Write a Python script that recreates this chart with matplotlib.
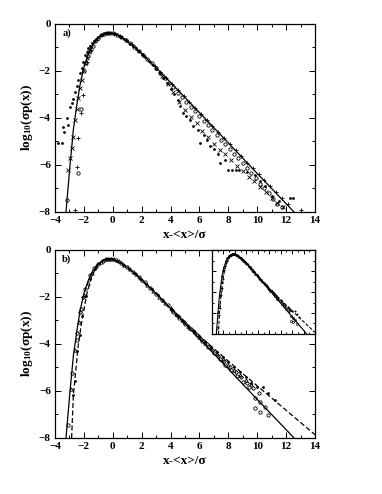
import matplotlib
matplotlib.use("Agg")
import matplotlib.pyplot as plt
from matplotlib.ticker import MultipleLocator

plt.rcParams["font.family"] = ["Liberation Serif", "DejaVu Serif"]
plt.rcParams["font.weight"] = "bold"
plt.rcParams["mathtext.fontset"] = "custom"
plt.rcParams["mathtext.rm"] = "Liberation Serif:bold"
plt.rcParams["mathtext.it"] = "Liberation Serif:bold"

# --- theory curves ---
line_x = [-3.24, -3.1, -2.96, -2.85, -2.73, -2.5, -2.27, -2.0, -1.69, -1.4, -1.0, -0.7,
          -0.31, 0.0, 0.5, 1.0, 1.5, 2.0, 3.0, 4.0, 6.0, 8.0, 10.0, 12.55]
line_y = [-8.0, -7.0, -6.0, -5.3, -4.5, -3.5, -2.6, -1.85, -1.28, -0.9, -0.6, -0.45,
          -0.37, -0.40, -0.53, -0.73, -0.98, -1.26, -1.86, -2.49, -3.77, -5.06, -6.36, -8.0]

dash_x = [-2.85, -2.73, -2.57, -2.39, -2.15, -1.81, -1.5, -1.2, -1.0, -0.7, -0.31, 0.0,
          0.5, 1.0, 1.5, 2.0, 3.0, 4.0, 5.0, 6.0, 7.0, 8.0, 9.0, 10.0, 11.0, 12.0, 13.0, 14.0]
dash_y = [-8.0, -6.17, -5.18, -4.04, -3.05, -1.91, -1.2, -0.8, -0.6, -0.45, -0.37, -0.40,
          -0.53, -0.73, -0.98, -1.26, -1.86, -2.48, -3.08, -3.65, -4.2, -4.73, -5.26, -5.78,
          -6.3, -6.82, -7.34, -7.86]

# --- panel a) data ---
a_dot_x = [-3.77, -3.54, -3.42, -3.35, -3.19, -3.08, -2.96, -2.85, -2.73, -2.61, -2.5, -2.39,
           -2.27, -2.15, -2.04, -1.92, -1.8, -1.69, -1.58, -1.46, -1.3, -1.15, -1.0, -0.85,
           -0.7, -0.55, -0.4, -0.25, -0.1, 0.05, 0.2, 0.4, 0.6, 0.8, 1.0, 1.2, 1.4, 1.6, 1.8,
           2.0, 2.25, 2.5, 2.75, 3.0, 3.25, 3.5, 3.75, 4.0, 4.25, 4.5, 4.66, 4.88, 5.1, 5.35,
           5.58, 5.93, 6.04, 6.3, 6.5, 6.73, 7.0, 7.31, 7.43, 7.77, 8.0, 8.25, 8.5, 8.75, 9.27,
           9.85, 10.2, 10.54, 11.0, 11.5, 12.3, 12.45]
a_dot_y = [-5.08, -5.08, -4.37, -4.6, -4.01, -4.3, -3.55, -3.35, -3.2, -2.88, -2.64, -2.38,
           -2.1, -1.89, -1.6, -1.32, -1.18, -1.04, -0.93, -0.82, -0.74, -0.64, -0.56, -0.49,
           -0.43, -0.39, -0.37, -0.37, -0.38, -0.40, -0.44, -0.50, -0.57, -0.65, -0.74, -0.84,
           -0.94, -1.04, -1.15, -1.27, -1.42, -1.57, -1.73, -1.9, -2.1, -2.3, -2.52, -2.75,
           -2.98, -3.22, -3.5, -3.78, -3.92, -4.1, -4.35, -4.5, -5.05, -4.72, -4.92, -5.2,
           -5.32, -5.55, -5.9, -5.78, -6.2, -6.2, -6.2, -6.2, -6.28, -6.42, -6.7, -6.9, -7.3,
           -7.55, -7.4, -7.4]

a_circ_x = [-3.19, -2.44, -2.2, -2.0, -1.85, -1.7, -1.55, -1.4, -1.2, -1.0, -0.8, -0.6, -0.4,
            -0.2, 0.0, 0.3, 0.6, 0.9, 1.2, 1.5, 1.8, 2.1, 2.4, 2.7, 3.0, 3.3, 3.6, 3.9, 4.2,
            4.5, 4.8, 5.1, 5.4, 5.7, 6.0, 6.3, 6.6, 6.9, 7.2, 7.5, 7.8, 8.1, 8.4, 8.7, 9.0,
            9.3, 9.6, 9.9, 10.2, 10.5, 10.8, 11.1, 11.4, 11.7]
a_circ_y = [-7.49, -6.36, -3.63, -2.0, -1.65, -1.38, -1.15, -0.92, -0.74, -0.6, -0.48, -0.41,
            -0.37, -0.37, -0.40, -0.47, -0.57, -0.69, -0.83, -0.98, -1.15, -1.32, -1.5, -1.68,
            -1.88, -2.09, -2.3, -2.5, -2.7, -2.92, -3.12, -3.33, -3.52, -3.72, -3.9, -4.12,
            -4.3, -4.5, -4.72, -4.92, -5.12, -5.3, -5.52, -5.7, -5.9, -6.12, -6.35, -6.55,
            -6.8, -7.0, -7.2, -7.45, -7.65, -7.8]

a_plus_x = [-2.61, -2.5, -2.39, -2.2, -2.04, -1.8, -1.5, -1.1, -0.7, -0.3, 0.1, 0.5, 0.9, 1.3,
            1.7, 2.1, 2.5, 2.9, 3.3, 3.7, 4.1, 4.5, 4.9, 5.3, 5.7, 6.1, 6.5, 6.9, 7.3, 7.7,
            8.1, 8.5, 8.9, 9.3, 9.7, 10.1, 10.5, 10.9, 11.3, 11.7, 12.1, 13.0]
a_plus_y = [-7.91, -6.07, -4.87, -3.8, -3.02, -1.6, -1.1, -0.68, -0.44, -0.37, -0.41, -0.53,
            -0.67, -0.87, -1.09, -1.32, -1.56, -1.80, -2.05, -2.30, -2.55, -2.82, -3.06,
            -3.32, -3.57, -3.82, -4.08, -4.33, -4.60, -4.85, -5.10, -5.38, -5.62, -5.9,
            -6.12, -6.4, -6.62, -6.9, -7.15, -7.4, -7.68, -7.9]

a_x_x = [-3.12, -2.96, -2.85, -2.73, -2.61, -2.5, -2.39, -2.27, -2.15, -2.04, -1.92, -1.8,
         -1.65, -1.5, 3.4, 3.8, 4.2, 4.6, 5.0, 5.4, 5.8, 6.2, 6.6, 7.0, 7.4, 7.8, 8.2, 8.6,
         9.0, 9.4, 9.8, 10.2, 10.6, 11.0, 11.4, 11.8]
a_x_y = [-6.21, -5.72, -5.28, -4.8, -4.09, -3.6, -3.16, -2.74, -2.38, -1.96, -1.68, -1.46,
         -1.2, -1.0, -2.2, -2.55, -2.9, -3.3, -3.65, -3.95, -4.2, -4.55, -4.8, -5.1, -5.35,
         -5.55, -5.8, -6.05, -6.25, -6.5, -6.7, -6.95, -7.15, -7.4, -7.6, -7.8]

# --- panel b) data ---
b_circ_x = [-3.12, -2.85, -2.5, -2.2, -1.9, -1.6, -1.3, -1.0, -0.7, -0.4, -0.1, 0.2, 0.6, 1.0,
            1.4, 1.8, 2.2, 2.6, 3.0, 3.4, 3.8, 4.2, 4.6, 5.0, 5.4, 5.8, 6.2, 6.6, 7.0, 7.4,
            7.8, 8.2, 8.6, 9.0, 9.4, 9.85, 9.85, 10.2, 10.2, 10.54, 10.77]
b_circ_y = [-7.45, -5.24, -3.83, -2.5, -1.65, -1.08, -0.77, -0.6, -0.45, -0.37, -0.38, -0.44,
            -0.57, -0.73, -0.93, -1.15, -1.38, -1.62, -1.86, -2.11, -2.36, -2.62, -2.88,
            -3.13, -3.38, -3.62, -3.88, -4.12, -4.38, -4.62, -4.88, -5.12, -5.38, -5.6,
            -5.85, -6.31, -6.74, -6.45, -6.88, -6.67, -7.02]

b_tri_x = [-2.91, -2.61, -2.34, -2.0, -1.75, -1.45, -1.15, -0.85, -0.55, -0.25, 0.05, 0.4,
           0.8, 1.2, 1.6, 2.0, 2.4, 2.8, 3.2, 3.6, 4.0, 4.4, 4.8, 5.2, 5.6, 6.0, 6.4, 6.8,
           7.2, 7.6, 8.0, 8.4, 8.8, 9.2, 9.6]
b_tri_y = [-5.92, -4.26, -3.05, -1.9, -1.4, -0.97, -0.7, -0.52, -0.4, -0.37, -0.40, -0.49,
           -0.65, -0.83, -1.04, -1.27, -1.51, -1.75, -1.99, -2.24, -2.48, -2.74, -2.98,
           -3.22, -3.46, -3.70, -3.94, -4.18, -4.42, -4.66, -4.88, -5.12, -5.34, -5.55, -5.72]

b_dot_x = [-2.73, -2.61, -2.45, -2.3, -2.1, -1.85, -1.55, -1.25, -0.95, -0.65, -0.35, -0.05,
           0.3, 0.7, 1.1, 1.5, 1.9, 2.3, 2.7, 3.1, 3.5, 4.0, 4.4, 4.8, 5.2, 5.6, 6.0, 6.4,
           6.8, 7.2, 7.6, 8.0, 8.4, 8.8, 9.2, 9.6, 10.0, 10.43, 10.77, 11.24]
b_dot_y = [-6.17, -5.57, -4.3, -3.6, -2.8, -1.95, -1.22, -0.8, -0.56, -0.43, -0.37, -0.39,
           -0.47, -0.62, -0.82, -1.0, -1.22, -1.45, -1.68, -1.92, -2.17, -2.5, -2.75, -3.0,
           -3.22, -3.45, -3.68, -3.9, -4.12, -4.33, -4.55, -4.78, -5.0, -5.2, -5.42, -5.65,
           -5.85, -5.82, -6.07, -6.38]

b_dia_x = [-2.5, -2.27, -2.05, 4.1, 4.5, 4.9, 5.3, 5.7, 6.1, 6.5, 6.9, 7.3, 7.7, 8.1, 8.5,
           8.9, 9.3, 9.7, 10.1]
b_dia_y = [-3.55, -2.62, -2.0, -2.55, -2.8, -3.05, -3.3, -3.54, -3.78, -4.02, -4.26, -4.5,
           -4.74, -4.97, -5.2, -5.42, -5.65, -5.88, -6.1]


def style_axes(ax, labels=True):
    ax.set_xlim(-4, 14)
    ax.set_ylim(-8, 0)
    ax.xaxis.set_major_locator(MultipleLocator(2))
    ax.xaxis.set_minor_locator(MultipleLocator(1))
    ax.yaxis.set_major_locator(MultipleLocator(2))
    ax.yaxis.set_minor_locator(MultipleLocator(1))
    ax.tick_params(which="both", direction="in", top=True, right=True, width=0.7,
                   labelsize=8)
    ax.tick_params(axis="x", pad=3)
    ax.tick_params(axis="y", pad=3)
    ax.tick_params(which="major", length=4)
    ax.tick_params(which="minor", length=2)
    for s in ax.spines.values():
        s.set_linewidth(0.9)
    if labels:
        ax.set_xlabel(r"x-<x>/σ", fontsize=9.5, fontweight="bold", labelpad=3)
        ax.set_ylabel(r"log$_{10}$(σp(x))", fontsize=9.5, fontweight="bold", labelpad=3)
    else:
        ax.set_xticklabels([])
        ax.set_yticklabels([])


fig = plt.figure(figsize=(3.82, 4.94), dpi=100)

# panel a
ax1 = fig.add_axes([0.144, 0.5709, 0.6806, 0.3806])
ax1.plot(line_x, line_y, color="black", lw=0.9)
ax1.plot(a_dot_x, a_dot_y, "o", ms=2.0, color="black", mew=0)
ax1.plot(a_circ_x, a_circ_y, "o", ms=2.4, mfc="none", mec="black", mew=0.6)
ax1.plot(a_plus_x, a_plus_y, "+", ms=3.2, color="black", mew=0.6)
ax1.plot(a_x_x, a_x_y, "x", ms=2.4, color="black", mew=0.6)
ax1.text(-3.5, -0.5, "a)", fontsize=7.5, fontweight="bold")
style_axes(ax1)

# panel b
ax2 = fig.add_axes([0.144, 0.1134, 0.6806, 0.3806])
ax2.plot(line_x, line_y, color="black", lw=0.9)
ax2.plot(dash_x, dash_y, color="black", lw=0.9, ls=(0, (4, 2)))
ax2.plot(b_circ_x, b_circ_y, "o", ms=2.4, mfc="none", mec="black", mew=0.6)
ax2.plot(b_tri_x, b_tri_y, "^", ms=2.4, mfc="none", mec="black", mew=0.6)
ax2.plot(b_dot_x, b_dot_y, "o", ms=2.0, color="black", mew=0)
ax2.plot(b_dia_x, b_dia_y, "D", ms=2.0, mfc="none", mec="black", mew=0.6)
ax2.text(-3.5, -0.5, "b)", fontsize=7.5, fontweight="bold")
style_axes(ax2)

# inset
ax3 = fig.add_axes([0.555, 0.3239, 0.2696, 0.17])
ax3.plot(line_x, line_y, color="black", lw=0.8)
ax3.plot(dash_x, dash_y, color="black", lw=0.8, ls=(0, (3, 1.5)))
ax3.plot(b_circ_x, b_circ_y, "o", ms=1.5, mfc="none", mec="black", mew=0.5)
ax3.plot(b_tri_x, b_tri_y, "^", ms=1.5, mfc="none", mec="black", mew=0.5)
ax3.plot(b_dot_x, b_dot_y, "o", ms=1.4, color="black", mew=0)
style_axes(ax3, labels=False)
ax3.tick_params(which="major", length=3)
ax3.tick_params(which="minor", length=1.5)

fig.savefig("out.png", dpi=100)
